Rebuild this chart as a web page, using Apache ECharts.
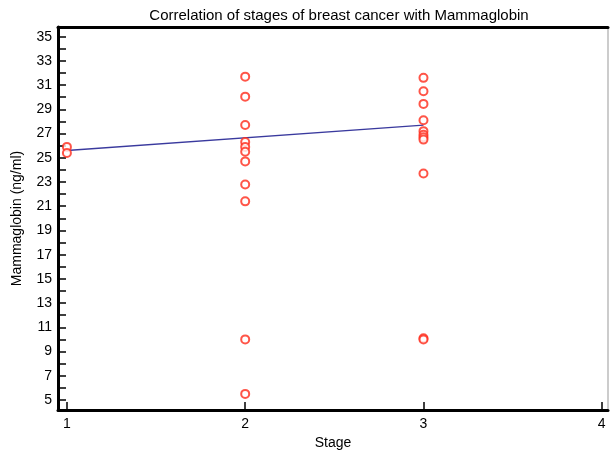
<!DOCTYPE html>
<html>
<head>
<meta charset="utf-8">
<script src="https://cdn.jsdelivr.net/npm/echarts@6/dist/echarts.min.js"></script>
<style>
  html, body { margin: 0; padding: 0; background: #fff; }
  #main { width: 610px; height: 450px; }
</style>
</head>
<body>
<div id="main"></div>
<script>
// stage of each patient and measured mammaglobin (ng/ml)
var stage1 = [25.9, 25.4];
var stage2 = [31.7, 30.05, 27.7, 26.3, 25.9, 25.5, 24.7, 22.8, 21.4, 10.0, 5.5];
var stage3 = [31.6, 30.5, 29.45, 28.1, 27.2, 26.9, 26.7, 26.5, 23.7, 10.1, 10.0];
// fitted regression line
var fitX = [1, 3];
var fitY = [25.6, 27.7];
var xTicks = [1, 2, 3, 4];
var yTicks = [];
for (var v = 5; v <= 35; v++) yTicks.push(v);
var yLabels = yTicks.filter(function (t) { return t % 2 === 1; });

var points = [];
[[1, stage1], [2, stage2], [3, stage3]].forEach(function (g) {
    g[1].forEach(function (val) { points.push([g[0], val]); });
});
var fitData = fitX.map(function (x, i) { return [x, fitY[i]]; });

var myChart = echarts.init(document.getElementById('main'));
var font = 'Liberation Sans, Arial, sans-serif';

var option = {
    animation: false,
    backgroundColor: '#fff',
    title: {
        text: 'Correlation of stages of breast cancer with Mammaglobin',
        left: 334,
        top: 3,
        textAlign: 'center',
        textStyle: { fontFamily: font, fontSize: 15, fontWeight: 'normal', color: '#000' }
    },
    grid: {
        left: 58, right: 2, top: 27, bottom: 40,
        outerBoundsMode: 'none',
        containLabel: false,
        show: true, borderColor: '#999', borderWidth: 1
    },
    xAxis: [{
        type: 'value',
        min: 0.95, max: 4.035,
        name: 'Stage',
        nameLocation: 'middle',
        nameGap: 25,
        nameTextStyle: { fontFamily: font, fontSize: 14, color: '#000' },
        axisLine: { show: true, lineStyle: { color: '#000', width: 3 } },
        axisTick: { show: true, inside: true, length: 8, customValues: xTicks, lineStyle: { color: '#000', width: 1.5 } },
        axisLabel: { customValues: xTicks, margin: 7, fontFamily: font, fontSize: 14, color: '#000' },
        splitLine: { show: false }
    }, {
        type: 'value',
        position: 'top',
        min: 0.95, max: 4.035,
        axisLine: { show: true, onZero: false, lineStyle: { color: '#000', width: 3 } },
        axisTick: { show: false },
        axisLabel: { show: false },
        splitLine: { show: false }
    }],
    yAxis: {
        type: 'value',
        min: 4.17, max: 35.8,
        name: 'Mammaglobin (ng/ml)',
        nameLocation: 'middle',
        nameGap: 34,
        nameTextStyle: { fontFamily: font, fontSize: 14, color: '#000' },
        axisLine: { show: true, lineStyle: { color: '#000', width: 3 } },
        axisTick: { show: true, inside: true, length: 8, customValues: yTicks, lineStyle: { color: '#000', width: 1.5 } },
        axisLabel: { customValues: yLabels, margin: 6, fontFamily: font, fontSize: 14, color: '#000' },
        splitLine: { show: false }
    },
    series: [{
        type: 'line',
        data: fitData,
        symbol: 'none',
        lineStyle: { color: '#3a3a9e', width: 1.3 },
        z: 2
    }, {
        type: 'scatter',
        xAxisIndex: 0,
        data: points,
        symbol: 'emptyCircle',
        symbolSize: 8,
        itemStyle: { color: '#ff2a1a', borderColor: '#ff2a1a', borderWidth: 1.4 },
        z: 3
    }]
};

myChart.setOption(option);
</script>
</body>
</html>
